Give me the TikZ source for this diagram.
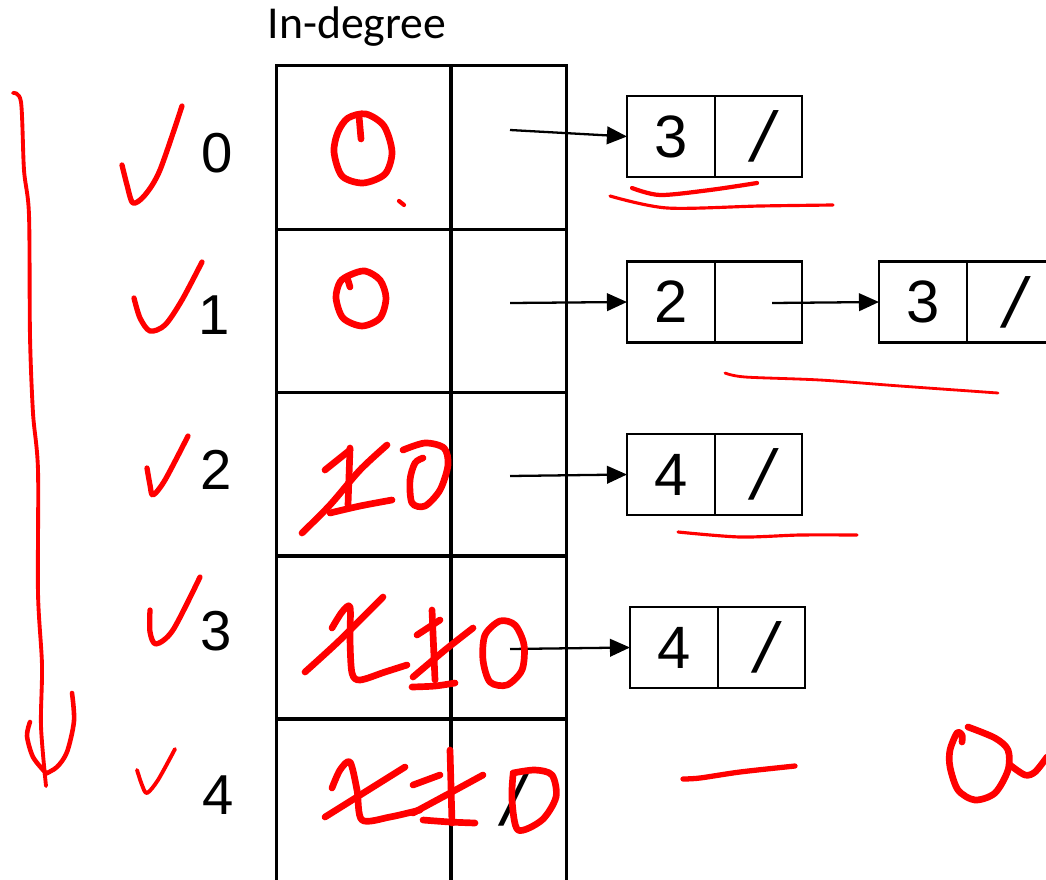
\documentclass[tikz,border=0pt]{standalone}
\usepackage{fontspec}
\setmainfont{Liberation Sans}
\newfontfamily\carlito{Carlito}
\newfontfamily\slashfont[FakeSlant=0.22]{Liberation Sans}
\usetikzlibrary{arrows.meta}
\begin{document}
\begin{tikzpicture}[x=0.01cm,y=-0.01cm,
 tcell/.style={draw, line width=0.85pt, inner sep=0pt, outer sep=0pt, minimum height=1.63cm},
 lcell/.style={tcell, minimum width=1.74cm},
 rcell/.style={tcell, minimum width=1.15cm},
 lbox/.style={draw, line width=0.75pt, inner sep=0pt, outer sep=0pt, minimum width=0.88cm, minimum height=0.81cm, font=\fontsize{17}{20}\selectfont},
 pbox/.style={lbox, minimum width=0.87cm, font=\slashfont\fontsize{20}{24}\selectfont},
 idx/.style={font=\fontsize{16}{19}\selectfont, inner sep=0pt},
 ptr/.style={-{Triangle[length=5.7pt,width=5pt]}, line width=0.65pt},
 ink/.style={draw=red, line width=1.9pt, line cap=round, line join=round},
 inkmid/.style={draw=red, line width=1.5pt, line cap=round, line join=round},
 inkthin/.style={draw=red, line width=0.9pt, line cap=round, line join=round},
]
\useasboundingbox (0,0) rectangle (1046,879);

% title
\node[font=\carlito\fontsize{13}{16}\selectfont, inner sep=0pt] (title) at (357,27) {In-degree};

% table
\node[lcell] (l0) at (364,147.5) {};
\node[rcell] (r0) at (508.5,147.5) {};
\node[lcell] (l1) at (364,311) {};
\node[rcell] (r1) at (508.5,311) {};
\node[lcell] (l2) at (364,474.5) {};
\node[rcell] (r2) at (508.5,474.5) {};
\node[lcell] (l3) at (364,637.5) {};
\node[rcell] (r3) at (508.5,637.5) {};
\node[lcell] (l4) at (364,800.5) {};
\node[rcell, font=\slashfont\fontsize{20}{24}\selectfont] (r4) at (508.5,800.5) {/};

% indices
\node[idx] (i0) at (217,153) {0};
\node[idx] (i1) at (214,315) {1};
\node[idx] (i2) at (216,470) {2};
\node[idx] (i3) at (216,631) {3};
\node[idx] (i4) at (218,795) {4};

% list nodes
\node[lbox] (v0) at (671,136.5) {3};
\node[pbox, anchor=west] (p0) at (v0.east) {/};
\node[lbox] (v1) at (671,302) {2};
\node[pbox, anchor=west] (p1) at (v1.east) {};
\node[lbox] (v1b) at (923,302) {3};
\node[pbox, anchor=west] (p1b) at (v1b.east) {/};
\node[lbox] (v2) at (671,474.5) {4};
\node[pbox, anchor=west] (p2) at (v2.east) {/};
\node[lbox] (v3) at (674,647.5) {4};
\node[pbox, anchor=west] (p3) at (v3.east) {/};

% pointers
\coordinate (a0) at (510,130);
\coordinate (a1) at (510,303);
\coordinate (a1b) at (772,303);
\coordinate (a2) at (510,476);
\coordinate (a3) at (510,649);
\draw[ptr] (a0) -- (v0.west);
\draw[ptr] (a1) -- (v1.west);
\draw[ptr] (a1b) -- (v1b.west);
\draw[ptr] (a2) -- (v2.west);
\draw[ptr] (a3) -- (v3.west);

% ---- red annotations ----
% long arrow
\draw[draw=red, line width=1.1pt, line cap=round, line join=round] plot[smooth] coordinates {(13,93) (21,102) (24,170) (29,215) (30,336) (33,413) (38,470) (38,593) (42,665) (41,726) (46,786)};
\draw[draw=red, line width=1.3pt, line cap=round, line join=round] plot[smooth] coordinates {(30,722) (27,736) (33,757) (45,772)};
\draw[draw=red, line width=1.3pt, line cap=round, line join=round] plot[smooth] coordinates {(72,693) (74,721) (67,752) (57,767) (45,774)};

% checks
\draw[inkmid] plot[smooth] coordinates {(122,165) (127,185) (133,203) (145,195) (160,170) (182,106)};
\draw[inkmid] plot[smooth] coordinates {(134,298) (140,318) (150,331) (165,325) (182,300) (202,262)};
\draw[inkmid] plot[smooth] coordinates {(147,468) (150,485) (153,495) (165,480) (188,436)};
\draw[inkmid] plot[smooth] coordinates {(150,610) (150,632) (156,644) (173,630) (200,577)};
\draw[draw=red, line width=1.1pt, line cap=round, line join=round] plot[smooth] coordinates {(137,770) (142,785) (147,793) (158,780) (175,749)};

% row 0: 0
\draw[ink] plot[smooth cycle] coordinates {(348,118) (366,114) (384,126) (392,152) (385,174) (363,183) (342,176) (334,152) (338,132)};
\draw[ink] (359,116) -- (361,139);
\draw[draw=red, line width=1.2pt, line cap=round] (399,201) -- (404,205);
% row 1: 0
\draw[ink] plot[smooth cycle] coordinates {(350,275) (365,271) (380,280) (386,298) (380,318) (362,326) (343,318) (336,298) (340,282)};
\draw[ink] (347,277) -- (350,287);

% row 2: crossed 1, 0
\draw[ink] plot[smooth] coordinates {(302,533) (330,505) (360,470) (387,445)};
\draw[ink] (325,470) -- (350,450);
\draw[ink] (350,448) -- (348,505);
\draw[ink] plot[smooth] coordinates {(330,513) (360,506) (392,500)};
\draw[ink] plot[smooth] coordinates {(403,450) (425,443) (444,448) (448,465) (440,490) (425,506) (412,503) (410,480) (415,463) (423,458)};

% row 3: x, crossed 1, 0
\draw[ink] plot[smooth] coordinates {(332,628) (342,612) (350,607) (350,640) (352,673) (360,680) (385,672) (407,665)};
\draw[ink] plot[smooth] coordinates {(305,672) (340,640) (383,597)};
\draw[ink] (417,635) -- (440,620);
\draw[ink] (432,610) -- (435,680);
\draw[ink] plot[smooth] coordinates {(412,687) (435,686) (455,683)};
\draw[ink] plot[smooth] coordinates {(413,677) (445,650) (473,628)};
\draw[ink] plot[smooth cycle] coordinates {(500,621) (515,625) (524,645) (522,670) (507,685) (490,682) (483,660) (485,635)};

% row 4: x, crossed 1, 0
\draw[ink] plot[smooth] coordinates {(325,817) (365,792) (405,767)};
\draw[ink] plot[smooth] coordinates {(332,788) (340,770) (350,762) (357,790) (362,820) (390,817) (420,810)};
\draw[ink] (413,785) -- (440,775);
\draw[ink] (450,750) -- (452,823);
\draw[ink] plot[smooth] coordinates {(423,820) (450,822) (475,823)};
\draw[ink] plot[smooth] coordinates {(413,813) (450,793) (483,775)};
\draw[ink] plot[smooth] coordinates {(513,773) (535,770) (552,775) (556,797) (542,820) (518,830) (512,800) (513,775)};

% underlines
\draw[draw=red, line width=1.2pt, line cap=round] plot[smooth] coordinates {(632,188) (660,195) (710,190) (757,183)};
\draw[inkthin] plot[smooth] coordinates {(610,196) (667,208) (760,206) (833,205)};
\draw[draw=red, line width=0.8pt, line cap=round] plot[smooth] coordinates {(725,373) (745,377) (820,380) (900,386) (998,393)};
\draw[inkthin] plot[smooth] coordinates {(678,532) (740,537) (800,535) (857,535)};

% right-side marks
\draw[inkmid] plot[smooth] coordinates {(683,779) (700,778) (740,772) (795,766)};
\draw[ink] plot[smooth] coordinates {(962,742) (962,735) (957,733) (950,750) (950,767) (958,790) (975,800) (995,793) (1008,770) (1008,750) (995,738) (968,727)};
\draw[ink] plot[smooth] coordinates {(1010,765) (1025,775) (1035,772) (1047,757)};
\end{tikzpicture}
\end{document}
